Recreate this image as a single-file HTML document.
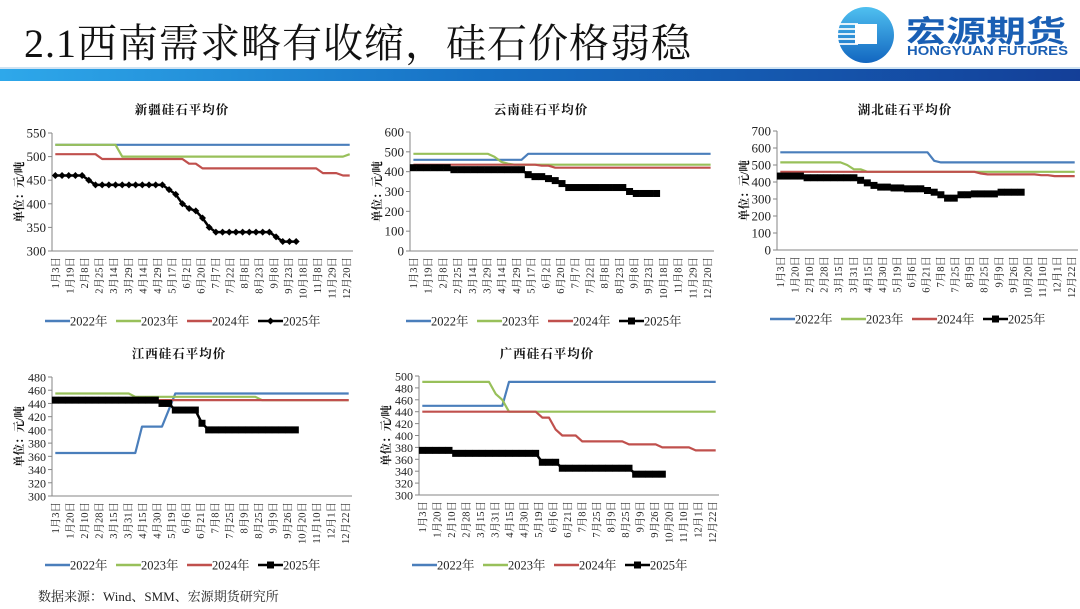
<!DOCTYPE html>
<html><head><meta charset="utf-8">
<style>
html,body{margin:0;padding:0;background:#fff;}
body{width:1080px;height:609px;overflow:hidden;position:relative;font-family:"Liberation Serif","Noto Serif CJK SC",serif;}
#title{position:absolute;left:24px;top:12px;font-size:40px;color:#111;font-family:"Liberation Serif","Noto Serif CJK SC",serif;letter-spacing:1px;white-space:nowrap;}
#band{position:absolute;left:0;top:69px;width:1080px;height:12px;background:linear-gradient(90deg,#2ea8ea 0%,#1670c4 45%,#143f98 100%);}
#band2{position:absolute;left:0;top:67px;width:1080px;height:2px;background:#cfe3f3;}
#source{position:absolute;left:38px;top:586px;font-size:13px;color:#222;font-family:"Liberation Serif","Noto Serif CJK SC",serif;}
svg{position:absolute;left:0;top:0;}
</style></head>
<body>
<div id="title">2.1西南需求略有收缩，硅石价格弱稳</div>
<div id="band2"></div>
<div id="band"></div>
<svg width="1080" height="70">
  <defs>
    <linearGradient id="lg" x1="0" y1="0" x2="0" y2="1">
      <stop offset="0" stop-color="#4fc0f0"/><stop offset="1" stop-color="#1266c0"/>
    </linearGradient>
  </defs>
  <circle cx="866" cy="35" r="28" fill="url(#lg)"/>
  <g fill="#fff" opacity="0.85">
    <rect x="836" y="23" width="22" height="2"/><rect x="836" y="28" width="22" height="2"/>
    <rect x="836" y="33" width="22" height="2"/><rect x="836" y="38" width="22" height="2"/>
    <rect x="836" y="43" width="22" height="2"/>
  </g>
  <rect x="855" y="24" width="22" height="20" fill="#fff"/>
  <text x="906" y="42" font-size="30" font-weight="bold" fill="#1a5fb4" textLength="160" lengthAdjust="spacingAndGlyphs" font-family="Liberation Sans,Noto Sans CJK SC,sans-serif">宏源期货</text>
  <text x="907" y="55" font-size="12.5" font-weight="bold" fill="#1a5fb4" textLength="161" lengthAdjust="spacingAndGlyphs" font-family="Liberation Sans,sans-serif">HONGYUAN FUTURES</text>
</svg>
<svg id="charts" width="1080" height="609"></svg>
<div id="source">数据来源：Wind、SMM、宏源期货研究所</div>
<script>
const labelsA = ["1月3日","1月19日","2月8日","2月25日","3月14日","3月29日","4月14日","4月29日","5月17日","6月2日","6月20日","7月7日","7月22日","8月8日","8月23日","9月8日","9月23日","10月18日","11月8日","11月29日","12月20日"];
const labelsB = ["1月3日","1月20日","2月10日","2月28日","3月15日","3月31日","4月15日","4月30日","5月19日","6月6日","6月21日","7月8日","7月25日","8月9日","8月25日","9月9日","9月26日","10月20日","11月10日","12月1日","12月22日"];
const seriesNames = ["2022年","2023年","2024年","2025年"];

const xj2022 = [525,525,525,525,525,525,525,525,525,525,525,525,525,525,525,525,525,525,525,525,525,525,525,525,525,525,525,525,525,525,525,525,525,525,525,525,525,525,525,525,525,525,525,525,525];
const xj2023 = [525,525,525,525,525,525,525,525,525,525,500,500,500,500,500,500,500,500,500,500,500,500,500,500,500,500,500,500,500,500,500,500,500,500,500,500,500,500,500,500,500,500,500,500,505];
const xj2024 = [505,505,505,505,505,505,505,495,495,495,495,495,495,495,495,495,495,495,495,495,485,485,475,475,475,475,475,475,475,475,475,475,475,475,475,475,475,475,475,475,465,465,465,460,460];
const xj2025 = [460,460,460,460,460,450,440,440,440,440,440,440,440,440,440,440,440,430,420,400,390,385,370,350,340,340,340,340,340,340,340,340,340,330,320,320,320];
const xjTicks = [300,350,400,450,500,550];

const yn2022 = [460,460,460,460,460,460,460,460,460,460,460,460,460,460,460,460,460,490,490,490,490,490,490,490,490,490,490,490,490,490,490,490,490,490,490,490,490,490,490,490,490,490,490,490,490];
const yn2023 = [490,490,490,490,490,490,490,490,490,490,490,490,475,450,440,435,435,435,435,435,435,435,435,435,435,435,435,435,435,435,435,435,435,435,435,435,435,435,435,435,435,435,435,435,435];
const yn2024 = [435,435,435,435,435,435,435,435,435,435,435,435,435,435,435,435,435,435,435,430,430,420,420,420,420,420,420,420,420,420,420,420,420,420,420,420,420,420,420,420,420,420,420,420,420];
const yn2025 = [420,420,420,420,420,420,410,410,410,410,410,410,410,410,410,410,410,385,375,375,365,355,340,320,320,320,320,320,320,320,320,320,300,290,290,290,290];
const ynTicks = [0,100,200,300,400,500,600];

const hb2022 = [575,575,575,575,575,575,575,575,575,575,575,575,575,575,575,575,575,575,575,575,575,575,575,525,515,515,515,515,515,515,515,515,515,515,515,515,515,515,515,515,515,515,515,515,515];
const hb2023 = [515,515,515,515,515,515,515,515,515,515,500,475,475,460,460,460,460,460,460,460,460,460,460,460,460,460,460,460,460,460,460,460,460,460,460,460,460,460,460,460,460,460,460,460,460];
const hb2024 = [460,460,460,460,460,460,460,460,460,460,460,460,460,460,460,460,460,460,460,460,460,460,460,460,460,460,460,460,460,460,450,445,445,445,445,445,445,445,445,440,440,435,435,435,435];
const hb2025 = [435,435,435,435,425,425,425,425,425,425,425,425,410,395,380,370,370,365,365,360,360,360,350,340,325,305,305,325,325,330,330,330,330,340,340,340,340];
const hbTicks = [0,100,200,300,400,500,600,700];

const jx2022 = [365,365,365,365,365,365,365,365,365,365,365,365,365,405,405,405,405,430,455,455,455,455,455,455,455,455,455,455,455,455,455,455,455,455,455,455,455,455,455,455,455,455,455,455,455];
const jx2023 = [455,455,455,455,455,455,455,455,455,455,455,455,450,450,450,450,450,450,450,450,450,450,450,450,450,450,450,450,450,450,450,445,445,445,445,445,445,445,445,445,445,445,445,445,445];
const jx2024 = [445,445,445,445,445,445,445,445,445,445,445,445,445,445,445,445,445,445,445,445,445,445,445,445,445,445,445,445,445,445,445,445,445,445,445,445,445,445,445,445,445,445,445,445,445];
const jx2025 = [445,445,445,445,445,445,445,445,445,445,445,445,445,445,445,445,440,440,430,430,430,430,410,400,400,400,400,400,400,400,400,400,400,400,400,400,400];
const jxTicks = [300,320,340,360,380,400,420,440,460,480];

const gx2022 = [450,450,450,450,450,450,450,450,450,450,450,450,450,490,490,490,490,490,490,490,490,490,490,490,490,490,490,490,490,490,490,490,490,490,490,490,490,490,490,490,490,490,490,490,490];
const gx2023 = [490,490,490,490,490,490,490,490,490,490,490,470,460,440,440,440,440,440,440,440,440,440,440,440,440,440,440,440,440,440,440,440,440,440,440,440,440,440,440,440,440,440,440,440,440];
const gx2024 = [440,440,440,440,440,440,440,440,440,440,440,440,440,440,440,440,440,440,430,430,410,400,400,400,390,390,390,390,390,390,390,385,385,385,385,385,380,380,380,380,380,375,375,375,375];
const gx2025 = [375,375,375,375,375,370,370,370,370,370,370,370,370,370,370,370,370,370,355,355,355,345,345,345,345,345,345,345,345,345,345,345,335,335,335,335,335];
const gxTicks = [300,320,340,360,380,400,420,440,460,480,500];

const NS = "http://www.w3.org/2000/svg";
const svg = document.getElementById('charts');
const colors = ["#4a7ebb","#98c05a","#c0504d","#000000"];
function mk(tag, attrs, parent){
  const e = document.createElementNS(NS, tag);
  for (const k in attrs) e.setAttribute(k, attrs[k]);
  (parent||svg).appendChild(e);
  return e;
}
function drawChart(cfg){
  const g = mk('g', {});
  
  
  const {x0,x1,y0,y1,min,max} = cfg;
  const N = 45;
  const xs = i => x0 + (i + 0.5) / N * (x1 - x0);
  const ys = v => y1 - (v - min) / (max - min) * (y1 - y0);
  const t = mk('text', {x:cfg.tx, y:cfg.ty, 'font-size':12.5, 'font-weight':'bold', 'text-anchor':'middle', fill:'#111', 'font-family':'Liberation Serif,Noto Serif CJK SC,serif', 'letter-spacing':'1'}, g);
  t.textContent = cfg.title;
  
  
  const ax = mk('path', {d:`M${x0},${y0} V${y1} H${x1}`, fill:'none', stroke:'#868686', 'stroke-width':1}, g);
  
  
  cfg.ticks.forEach(v => {
    mk('line', {x1:x0-4, x2:x0, y1:ys(v), y2:ys(v), stroke:'#868686'}, g);
    const tt = mk('text', {x:x0-6, y:ys(v)+4.5, 'font-size':cfg.tfs, 'text-anchor':'end', fill:'#222'}, g);
    tt.textContent = v;
    
    
  });
  const yt = mk('text', {transform:`translate(${x0-29},${(y0+y1)/2}) rotate(-90)`, 'font-size':11.5, 'font-weight':'bold', 'text-anchor':'middle', fill:'#111', 'font-family':'Liberation Serif,Noto Serif CJK SC,serif'}, g);
  yt.textContent = '单位：元/吨';
  
  
  const L = cfg.labels.length;
  cfg.labels.forEach((lb, i) => {
    const lx = x0 + 3 + i * (x1 - x0 - 10) / (L - 1);
    const tl = mk('text', {transform:`translate(${lx+4},${y1+6}) rotate(-90)`, 'font-size':10.5, 'text-anchor':'end', fill:'#222'}, g);
    tl.textContent = lb;
    
    
  });
  cfg.series.forEach((arr, si) => {
    const d = arr.map((v, i) => (i ? 'L' : 'M') + xs(i).toFixed(1) + ',' + ys(v).toFixed(1)).join(' ');
    const p = mk('path', {d, fill:'none', stroke:colors[si], 'stroke-width': si === 3 ? 2.5 : 2.2, 'stroke-linejoin':'round'}, g);
    
    
    if (si === 3) {
      arr.forEach((v, i) => {
        let m;
        if (cfg.diamond) m = mk('path', {d:`M${xs(i)},${ys(v)-3.5} l3.5,3.5 l-3.5,3.5 l-3.5,-3.5 z`, fill:'#000'}, g);
        else m = mk('rect', {x:xs(i)-3.5, y:ys(v)-3.5, width:7, height:7, fill:'#000'}, g);
        
        
      });
    }
  });
  seriesNames.forEach((nm, si) => {
    const lx = cfg.lx + si * cfg.lstep;
    const lg = mk('g', {}, g);
    
    
    mk('line', {x1:lx, x2:lx+25, y1:cfg.ly, y2:cfg.ly, stroke:colors[si], 'stroke-width':2.5}, lg);
    if (si === 3) {
      if (cfg.diamond) mk('path', {d:`M${lx+12.5},${cfg.ly-3.5} l3.5,3.5 l-3.5,3.5 l-3.5,-3.5 z`, fill:'#000'}, lg);
      else mk('rect', {x:lx+9, y:cfg.ly-3.5, width:7, height:7, fill:'#000'}, lg);
    }
    const tx = mk('text', {x:lx+25, y:cfg.ly+4.5, 'font-size':12.5, fill:'#222', 'font-family':'Liberation Serif,Noto Serif CJK SC,serif'}, lg);
    tx.textContent = nm;
  });
}
drawChart({name:'xinjiang-chart', title:'新疆硅石平均价', tx:182, ty:114, x0:52, x1:353, y0:133, y1:251, min:300, max:550, ticks:xjTicks, tfs:13, labels:labelsA, series:[xj2022,xj2023,xj2024,xj2025], diamond:true, lx:45, lstep:71, ly:321});
drawChart({name:'yunnan-chart', title:'云南硅石平均价', tx:541, ty:114, x0:410, x1:714, y0:132, y1:251, min:0, max:600, ticks:ynTicks, tfs:13, labels:labelsA, series:[yn2022,yn2023,yn2024,yn2025], lx:406, lstep:71, ly:321});
drawChart({name:'hubei-chart', title:'湖北硅石平均价', tx:905, ty:114, x0:777, x1:1078, y0:131, y1:250, min:0, max:700, ticks:hbTicks, tfs:13, labels:labelsB, series:[hb2022,hb2023,hb2024,hb2025], lx:770, lstep:71, ly:319});
drawChart({name:'jiangxi-chart', title:'江西硅石平均价', tx:179, ty:358, x0:52, x1:352, y0:377, y1:496, min:300, max:480, ticks:jxTicks, tfs:12, labels:labelsB, series:[jx2022,jx2023,jx2024,jx2025], lx:45, lstep:71, ly:565});
drawChart({name:'guangxi-chart', title:'广西硅石平均价', tx:547, ty:358, x0:419, x1:719, y0:376, y1:495, min:300, max:500, ticks:gxTicks, tfs:12, labels:labelsB, series:[gx2022,gx2023,gx2024,gx2025], lx:412, lstep:71, ly:565});
</script>
</body></html>
